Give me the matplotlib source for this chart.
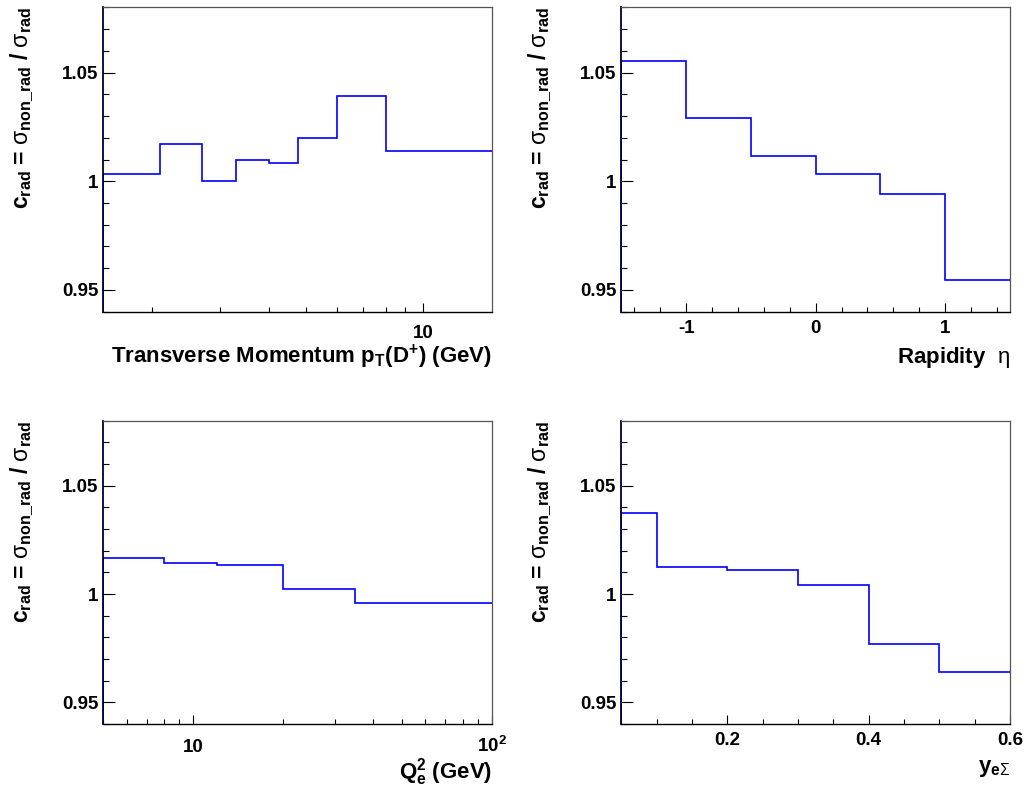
import numpy as np
import matplotlib
matplotlib.use('Agg')
import matplotlib.pyplot as plt
from matplotlib.ticker import MultipleLocator, LogLocator, NullFormatter

plt.rcParams['font.family'] = ['Liberation Sans', 'DejaVu Sans']
plt.rcParams['font.weight'] = 'bold'
plt.rcParams['axes.labelweight'] = 'bold'
plt.rcParams['mathtext.fontset'] = 'custom'
plt.rcParams['mathtext.rm'] = 'Liberation Sans:weight=normal'
plt.rcParams['mathtext.bf'] = 'Liberation Sans:weight=bold'
plt.rcParams['mathtext.it'] = 'Liberation Sans:italic:weight=normal'
plt.rcParams['mathtext.default'] = 'bf'

# ---------------- data ----------------
pt_edges = [1.5, 2.1, 2.7, 3.3, 4.0, 4.75, 6.0, 8.0, 15.0]
pt_crad = [1.0035, 1.017, 1.000, 1.0096, 1.0086, 1.0197, 1.039, 1.0138]

eta_edges = [-1.5, -1.0, -0.5, 0.0, 0.5, 1.0, 1.5]
eta_crad = [1.0555, 1.0289, 1.0116, 1.0032, 0.994, 0.9544]

q2_edges = [5.0, 8.0, 12.0, 20.0, 35.0, 100.0]
q2_crad = [1.0165, 1.0145, 1.0136, 1.0021, 0.9957]

y_edges = [0.05, 0.1, 0.2, 0.3, 0.4, 0.5, 0.6]
y_crad = [1.0372, 1.0124, 1.0113, 1.0043, 0.9768, 0.9639]

ytick_vals = [0.95, 1.0, 1.05]
ytick_labels = ['0.95', '1', '1.05']
pt_tick_vals = [10]
pt_tick_labels = ['10']
eta_tick_vals = [-1, 0, 1]
eta_tick_labels = ['-1', '0', '1']
q2_tick_vals = [10, 100]
q2_tick_labels = ['10', r'10$^{2}$']
y_tick_vals = [0.2, 0.4, 0.6]
y_tick_labels = ['0.2', '0.4', '0.6']

ylabel_text = r'c$_{rad}$ = $\mathrm{\sigma}_{non\_rad}$ / $\mathrm{\sigma}_{rad}$'
xlabels = [r'Transverse Momentum p$_{T}$(D$^{+}$) (GeV)',
           r'Rapidity  $\mathrm{\eta}$',
           r'Q$_{e}^{2}$ (GeV)',
           r'y$_{e\mathrm{\Sigma}}$']

# ---------------- figure ----------------
W, H = 1030, 793
fig = plt.figure(figsize=(W / 100, H / 100), dpi=100)


def axes_px(l, t, r, b):
    return fig.add_axes([l / W, 1 - b / H, (r - l) / W, (b - t) / H])


ax1 = axes_px(103, 7.3, 491.7, 311.7)
ax2 = axes_px(621.3, 7.3, 1010, 311.7)
ax3 = axes_px(103, 420.7, 491.7, 724)
ax4 = axes_px(621.3, 420.7, 1010, 724)


def style(ax, xlabel, xpad, xlab_y):
    ax.set_ylim(0.94, 1.08)
    ax.set_yticks(ytick_vals, ytick_labels)
    ax.yaxis.set_minor_locator(MultipleLocator(0.01))
    ax.tick_params(axis='both', which='both', direction='in', top=False,
                   right=False, colors='black', labelsize=13.5, width=0.8)
    ax.tick_params(axis='y', which='major', length=8.6, pad=3.5)
    ax.tick_params(axis='y', which='minor', length=4.3)
    ax.tick_params(axis='x', which='major', length=6.5, pad=xpad)
    ax.tick_params(axis='x', which='minor', length=3.6)
    for s in ['top', 'right']:
        ax.spines[s].set_color('#555555')
        ax.spines[s].set_linewidth(0.9)
    ax.spines['bottom'].set_linewidth(1.0)
    ax.spines['left'].set_linewidth(1.3)
    ax.spines['left'].set_color('#000030')
    ax.set_ylabel(ylabel_text, loc='top', fontsize=16.5)
    ax.yaxis.set_label_coords(-0.172, 1.0)
    ax.set_xlabel(xlabel, loc='right', fontsize=16, va='baseline')
    ax.xaxis.set_label_coords(1.0, xlab_y)


def hist(ax, edges, vals):
    ax.stairs(vals, edges, baseline=None, color='blue', lw=1.2)
    ax.vlines(edges[0], ax.get_ylim()[0], vals[0], color='blue', lw=1.2)


# panel 1: pT
ax1.set_xscale('log')
ax1.set_xlim(pt_edges[0], pt_edges[-1])
style(ax1, xlabels[0], 9.6, -0.1675)
ax1.set_xticks(pt_tick_vals, pt_tick_labels)
ax1.xaxis.set_minor_locator(LogLocator(base=10, subs=np.arange(2, 10)))
ax1.xaxis.set_minor_formatter(NullFormatter())
hist(ax1, pt_edges, pt_crad)

# panel 2: eta
ax2.set_xlim(eta_edges[0], eta_edges[-1])
style(ax2, xlabels[1], 6.0, -0.1695)
ax2.set_xticks(eta_tick_vals, eta_tick_labels)
ax2.xaxis.set_minor_locator(MultipleLocator(0.2))
hist(ax2, eta_edges, eta_crad)

# panel 3: Q2
ax3.set_xscale('log')
ax3.set_xlim(q2_edges[0], q2_edges[-1])
style(ax3, xlabels[2], 19.9, -0.181)
ax3.set_xticks(q2_tick_vals, q2_tick_labels)
ax3.xaxis.set_minor_locator(LogLocator(base=10, subs=np.arange(2, 10)))
ax3.xaxis.set_minor_formatter(NullFormatter())
for lab in ax3.get_xticklabels():
    lab.set_va('baseline')
hist(ax3, q2_edges, q2_crad)

# panel 4: y
ax4.set_xlim(y_edges[0], y_edges[-1])
style(ax4, xlabels[3], 5.5, -0.157)
ax4.set_xticks(y_tick_vals, y_tick_labels)
ax4.xaxis.set_minor_locator(MultipleLocator(0.05))
hist(ax4, y_edges, y_crad)

fig.savefig('out.png', dpi=100)
